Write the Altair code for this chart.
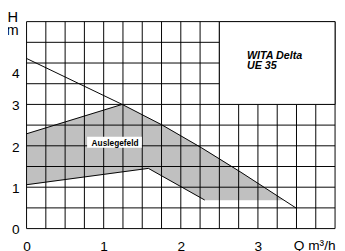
import altair as alt
import pandas as pd

# Pump curve (Q in m3/h, H in m)
pump_q = [0.0, 1.24, 1.76, 2.27, 2.78, 3.5]
pump_h = [4.11, 3.0, 2.5, 1.95, 1.36, 0.49]

# Auslegefeld polygon (vertices in order)
field_q = [0.0, 1.24, 1.76, 2.27, 2.78, 3.33, 2.31, 1.58, 0.0]
field_h = [2.29, 3.0, 2.5, 1.95, 1.36, 0.69, 0.69, 1.455, 1.06]

# stroked edges of the field
upper_edge_q = [0.0, 1.24]
upper_edge_h = [2.29, 3.0]
lower_edge_q = [0.0, 1.58, 2.31]
lower_edge_h = [1.06, 1.455, 0.69]

# grid and tick values
x_grid = [0.0, 0.25, 0.5, 0.75, 1.0, 1.25, 1.5, 1.75, 2.0, 2.25, 2.5, 2.75, 3.0, 3.25, 3.5, 3.75, 4.0]
y_grid = [0.0, 0.5, 1.0, 1.5, 2.0, 2.5, 3.0, 3.5, 4.0, 4.5, 5.0]
x_ticks = [0, 1, 2, 3]
y_ticks = [0, 1, 2, 3, 4]

# annotation boxes / labels
title_box_q = [2.5, 4.0]
title_box_h = [3.0, 5.0]
title_text = "WITA Delta\nUE 35"
title_pos = [2.857, 4.10]
field_label = "Auslegefeld"
field_label_pos = [1.148, 2.075]
field_box_q = [0.785, 1.495]
field_box_h = [1.95, 2.22]

FONT = "Liberation Sans"
W, H = 316, 212

xs = alt.Scale(domain=[0, 4], nice=False, zero=False)
ys = alt.Scale(domain=[0, 5], nice=False, zero=False)

x_axis = alt.Axis(values=x_ticks, grid=False, domain=False, ticks=False,
                  labelFont=FONT, labelFontSize=14, labelColor="black",
                  labelPadding=11, labelBaseline="top", labelFlush=False,
                  title="Q m³/h", titleFont=FONT, titleFontSize=14,
                  titleFontWeight="normal", titleColor="black",
                  titleX=W, titleY=10.5, titleAlign="right", titleBaseline="top")
y_axis = alt.Axis(values=y_ticks, grid=False, domain=False, ticks=False,
                  labelFont=FONT, labelFontSize=14, labelColor="black",
                  labelPadding=7.5, labelFlush=False,
                  labelOffset={"condition": {"test": "datum.value == 4", "value": 11}, "value": 1.5},
                  title=["H", "m"], titleFont=FONT, titleFontSize=15,
                  titleFontWeight="normal", titleColor="black", titleAngle=0,
                  titleX=-14.7, titleY=0.3, titleAlign="center",
                  titleBaseline="alphabetic", titleLineHeight=12.4)


def X(f, **kw):
    return alt.X(f, type="quantitative", scale=xs, axis=x_axis, **kw)


def Y(f, **kw):
    return alt.Y(f, type="quantitative", scale=ys, axis=y_axis, **kw)


field_df = pd.DataFrame({"q": field_q, "h": field_h, "i": list(range(len(field_q)))})
pump_df = pd.DataFrame({"q": pump_q, "h": pump_h})
edges_df = pd.concat([
    pd.DataFrame({"q": upper_edge_q, "h": upper_edge_h, "e": "upper"}),
    pd.DataFrame({"q": lower_edge_q, "h": lower_edge_h, "e": "lower"}),
])
xg_df = pd.DataFrame({"q": x_grid})
yg_df = pd.DataFrame({"h": y_grid})
tbox_df = pd.DataFrame({"q": [title_box_q[0]], "q2": [title_box_q[1]],
                        "h": [title_box_h[0]], "h2": [title_box_h[1]]})
fbox_df = pd.DataFrame({"q": [field_box_q[0]], "q2": [field_box_q[1]],
                        "h": [field_box_h[0]], "h2": [field_box_h[1]]})
ttext_df = pd.DataFrame({"q": [title_pos[0]], "h": [title_pos[1]], "t": [title_text]})
ftext_df = pd.DataFrame({"q": [field_label_pos[0]], "h": [field_label_pos[1]], "t": [field_label]})

fill = alt.Chart(field_df).mark_line(fill="#c0c0c0", stroke="#c0c0c0", strokeWidth=0.5).encode(
    x=X("q"), y=Y("h"), order=alt.Order("i:Q"))

vgrid = alt.Chart(xg_df).mark_rule(color="black", strokeWidth=1).encode(x=X("q"))
hgrid = alt.Chart(yg_df).mark_rule(color="black", strokeWidth=1).encode(y=Y("h"))

edges = alt.Chart(edges_df).mark_line(color="black", strokeWidth=1).encode(
    x=X("q"), y=Y("h"), detail="e:N")
pump = alt.Chart(pump_df).mark_line(color="black", strokeWidth=1).encode(x=X("q"), y=Y("h"))

tbox = alt.Chart(tbox_df).mark_rect(fill="white", stroke="black", strokeWidth=1).encode(
    x=X("q"), x2="q2", y=Y("h"), y2="h2")
fbox = alt.Chart(fbox_df).mark_rect(fill="white", strokeWidth=0).encode(
    x=X("q"), x2="q2", y=Y("h"), y2="h2")

ttext = alt.Chart(ttext_df).mark_text(
    font=FONT, fontSize=11, fontWeight="bold", fontStyle="italic", color="black",
    align="left", baseline="alphabetic", lineBreak="\n", lineHeight=10).encode(
    x=X("q"), y=Y("h"), text="t:N")
ftext = alt.Chart(ftext_df).mark_text(
    font=FONT, fontSize=8.5, fontWeight="bold", color="black",
    align="center", baseline="middle").encode(
    x=X("q"), y=Y("h"), text="t:N")

chart = alt.layer(fill, vgrid, hgrid, edges, pump, tbox, fbox, ttext, ftext).properties(
    width=W, height=H,
    autosize=alt.AutoSizeParams(type="none"),
    padding={"left": 19, "top": 11, "right": 2, "bottom": 20},
    background="white",
).configure_view(stroke=None)

chart.save("out.html", embed_options={"renderer": "svg", "actions": False})
